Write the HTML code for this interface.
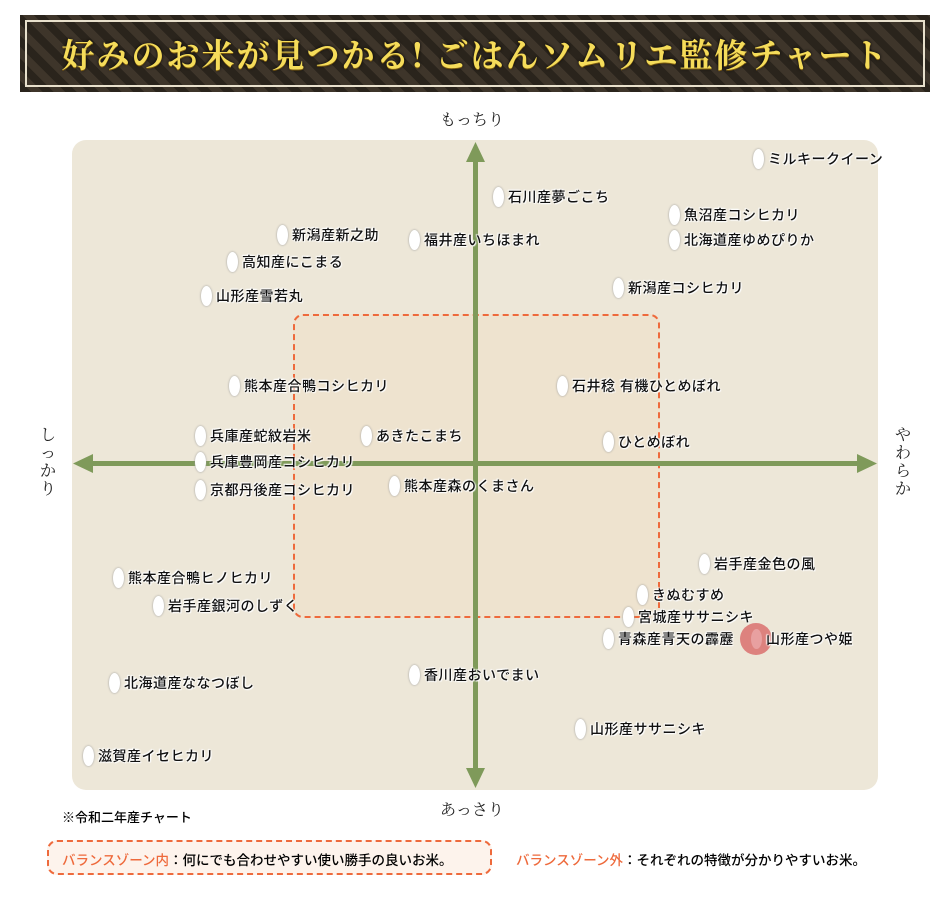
<!DOCTYPE html>
<html><head><meta charset="utf-8"><style>
body{margin:0;width:950px;height:900px;background:#fff;position:relative;overflow:hidden;font-family:"Liberation Sans","Noto Sans CJK JP",sans-serif;}
.hdr{position:absolute;left:20px;top:15px;width:910px;height:77px;background:repeating-linear-gradient(45deg,#2a241c 0 8px,#3e352a 8px 16px);box-sizing:border-box;}
.hdr .in{position:absolute;left:5px;top:5px;right:5px;bottom:5px;border:2px solid #e8e0cc;display:flex;align-items:center;justify-content:center;}
.hdr span{font-family:"Noto Serif CJK SC","Liberation Serif",serif;font-weight:bold;font-size:33px;color:#f5dc5a;text-shadow:0 1px 0 #7a5a10,0 0 3px #000;letter-spacing:2px}
.chart{position:absolute;left:72px;top:140px;width:806px;height:650px;background:#ede7d8;border-radius:14px;}
.zone{position:absolute;left:293px;top:314px;width:363px;height:300px;border:2px dashed #ee6a3c;border-radius:10px;background:rgba(245,215,175,0.2);}
.it{position:absolute;font-size:14px;font-weight:500;letter-spacing:0.5px;color:#111;white-space:nowrap;text-shadow:0 0 2px #fff,0 0 2px #fff,1px 1px 1px #fff,-1px -1px 1px #fff;line-height:16px}
.g{position:absolute;width:11px;height:20px;background:#fff;border-radius:50%;box-shadow:0 0 2px #999;}
.ax{position:absolute;font-family:"Noto Serif CJK SC","Liberation Serif",serif;font-size:16px;color:#222}
</style></head><body>
<div class="hdr"><div class="in"><span>好みのお米が見つかる! ごはんソムリエ監修チャート</span></div></div>
<div class="chart"></div>
<div class="zone"></div>
<svg style="position:absolute;left:0;top:0" width="950" height="900">
<g fill="#7f9a5a" stroke="none">
<rect x="473" y="158" width="5" height="614"/>
<polygon points="475.5,142 466,162 485,162"/>
<polygon points="475.5,788 466,768 485,768"/>
<rect x="90" y="461" width="770" height="5"/>
<polygon points="73,463.5 93,454 93,473"/>
<polygon points="877,463.5 857,454 857,473"/>
</g>
<circle cx="756" cy="639" r="16" fill="#d9706f" opacity="0.85"/>
</svg>
<div class="ax" style="left:440px;top:107px">もっちり</div>
<div class="ax" style="left:440px;top:797px">あっさり</div>
<div class="ax" style="left:40px;top:425px;width:16px;line-height:18px">しっかり</div>
<div class="ax" style="left:895px;top:425px;width:16px;line-height:18px">やわらか</div>
<div id="items"></div>
<div style="position:absolute;left:62px;top:807px;font-size:13px;font-weight:500">※令和二年産チャート</div>
<div style="position:absolute;left:47px;top:840px;width:445px;height:35px;border:2px dashed #ee6a3c;border-radius:10px;box-sizing:border-box;background:#fdf3ec"></div>
<div style="position:absolute;left:62px;top:849px;font-size:13.5px;font-weight:500"><span style="color:#ee6a3c">バランスゾーン内</span>：何にでも合わせやすい使い勝手の良いお米。</div>
<div style="position:absolute;left:516px;top:849px;font-size:13.5px;font-weight:500"><span style="color:#ee6a3c">バランスゾーン外</span>：それぞれの特徴が分かりやすいお米。</div>
<script>
var d=[["ミルキークイーン",758,159],["石川産夢ごこち",498,197],["魚沼産コシヒカリ",674,215],["新潟産新之助",282,235],["福井産いちほまれ",414,240],["北海道産ゆめぴりか",674,240],["高知産にこまる",232,262],["新潟産コシヒカリ",618,288],["山形産雪若丸",206,296],["熊本産合鴨コシヒカリ",234,386],["石井稔 有機ひとめぼれ",562,386],["兵庫産蛇紋岩米",200,436],["あきたこまち",366,436],["ひとめぼれ",608,442],["兵庫豊岡産コシヒカリ",200,462],["熊本産森のくまさん",394,486],["京都丹後産コシヒカリ",200,490],["岩手産金色の風",704,564],["熊本産合鴨ヒノヒカリ",118,578],["きぬむすめ",642,595],["岩手産銀河のしずく",158,606],["宮城産ササニシキ",628,617],["青森産青天の霹靂",608,639],["山形産つや姫",756,639],["香川産おいでまい",414,675],["北海道産ななつぼし",114,683],["山形産ササニシキ",580,729],["滋賀産イセヒカリ",88,756]];
var h="";d.forEach(function(a){var pink=a[0]=="山形産つや姫";h+='<div class="g" style="left:'+(a[1]-5)+'px;top:'+(a[2]-10)+'px;'+(pink?'background:#e8a0a0;box-shadow:none':'')+'"></div><div class="it" style="left:'+(a[1]+10)+'px;top:'+(a[2]-8)+'px">'+a[0]+'</div>';});
document.getElementById("items").innerHTML=h;
</script>
</body></html>
